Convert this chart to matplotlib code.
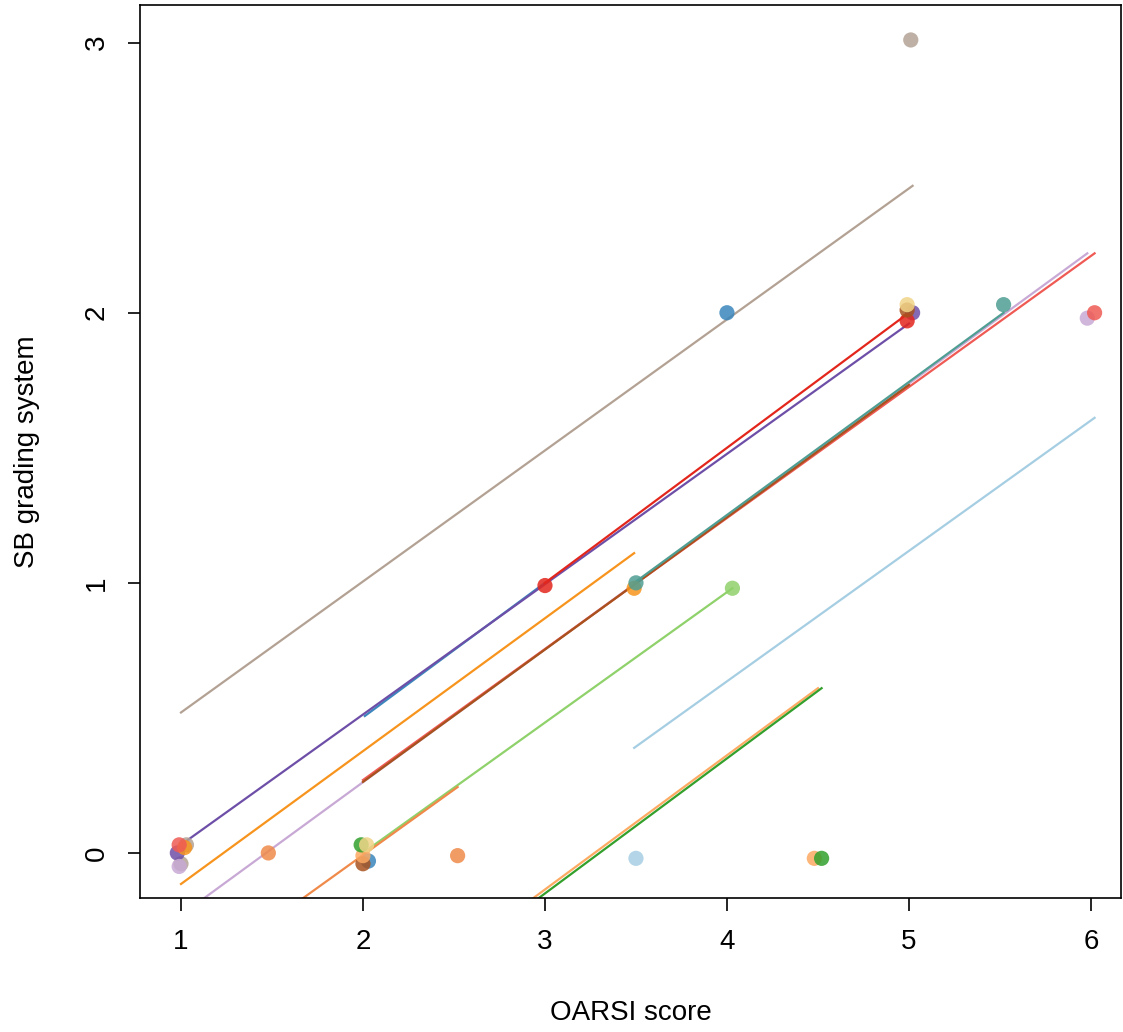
import matplotlib
matplotlib.use("Agg")
import matplotlib.pyplot as plt

plt.rcParams["font.family"] = ["Liberation Sans", "DejaVu Sans"]

# one entry per subject: colour, scatter points, fitted line (x range, y at ends)
colors = ["#b3a294", "#3a86bd", "#6e4fa8", "#e3261c", "#f7941d", "#c8a9d5",
          "#ef5a54", "#a8521e", "#4f9e93", "#8fd16a", "#ef8a4a", "#fdaa63",
          "#33a02c", "#a6cee3", "#f0d488"]

pts_x = [[5.01, 1.03, 1.00], [4.00, 2.03], [5.02, 0.98], [3.00, 4.99],
         [3.49, 1.02], [5.98, 0.99], [6.02, 0.99], [4.99, 2.00], [5.52, 3.50],
         [4.03], [1.48, 2.52], [4.48, 2.00], [4.52, 1.99], [3.50], [4.99, 2.02]]
pts_y = [[3.01, 0.03, -0.04], [2.00, -0.03], [2.00, 0.00], [0.99, 1.97],
         [0.98, 0.02], [1.98, -0.05], [2.00, 0.03], [2.01, -0.04], [2.03, 1.00],
         [0.98], [0.00, -0.01], [-0.02, -0.01], [-0.02, 0.03], [-0.02], [2.03, 0.03]]

line_x0 = [1.00, 2.01, 1.00, 3.00, 1.00, 1.00, 2.00, 2.00, 3.49, 2.00, 1.50, 2.90, 2.90, 3.49, None]
line_x1 = [5.02, 3.00, 5.00, 5.00, 3.49, 5.98, 6.02, 5.00, 5.52, 4.03, 2.52, 4.50, 4.52, 6.02, None]
line_y0 = [0.52, 0.507, 0.03, 1.00, -0.115, -0.23, 0.27, 0.263, 1.00, 0.00, -0.25, -0.185, -0.20, 0.389, None]
line_y1 = [2.47, 1.00, 1.96, 2.00, 1.11, 2.22, 2.22, 1.733, 2.00, 0.98, 0.244, 0.61, 0.61, 1.611, None]

fig = plt.figure(figsize=(11.23, 10.32), dpi=100)
ax = fig.add_axes([0.1247, 0.1298, 0.8735, 0.8655])

for i, c in enumerate(colors):
    if line_x0[i] is not None:
        ax.plot([line_x0[i], line_x1[i]], [line_y0[i], line_y1[i]],
                color=c, lw=1.6, zorder=2)
for i, c in enumerate(colors):
    ax.scatter(pts_x[i], pts_y[i], s=120, color=c, alpha=0.85,
               edgecolors="none", zorder=3)

ax.set_xlim(0.775, 6.165)
ax.set_ylim(-0.167, 3.14)
ax.set_xticks([1, 2, 3, 4, 5, 6])
ax.set_yticks([0, 1, 2, 3])
ax.tick_params(direction="out", length=9, width=1.2, labelsize=20, pad=13)
for lab in ax.get_yticklabels():
    lab.set_rotation(90)
    lab.set_va("center")
for s in ax.spines.values():
    s.set_linewidth(1.2)

ax.set_xlabel("OARSI score", fontsize=20, labelpad=33)
ax.set_ylabel("SB grading system", fontsize=20, labelpad=31)

fig.savefig("out.png", dpi=100)
